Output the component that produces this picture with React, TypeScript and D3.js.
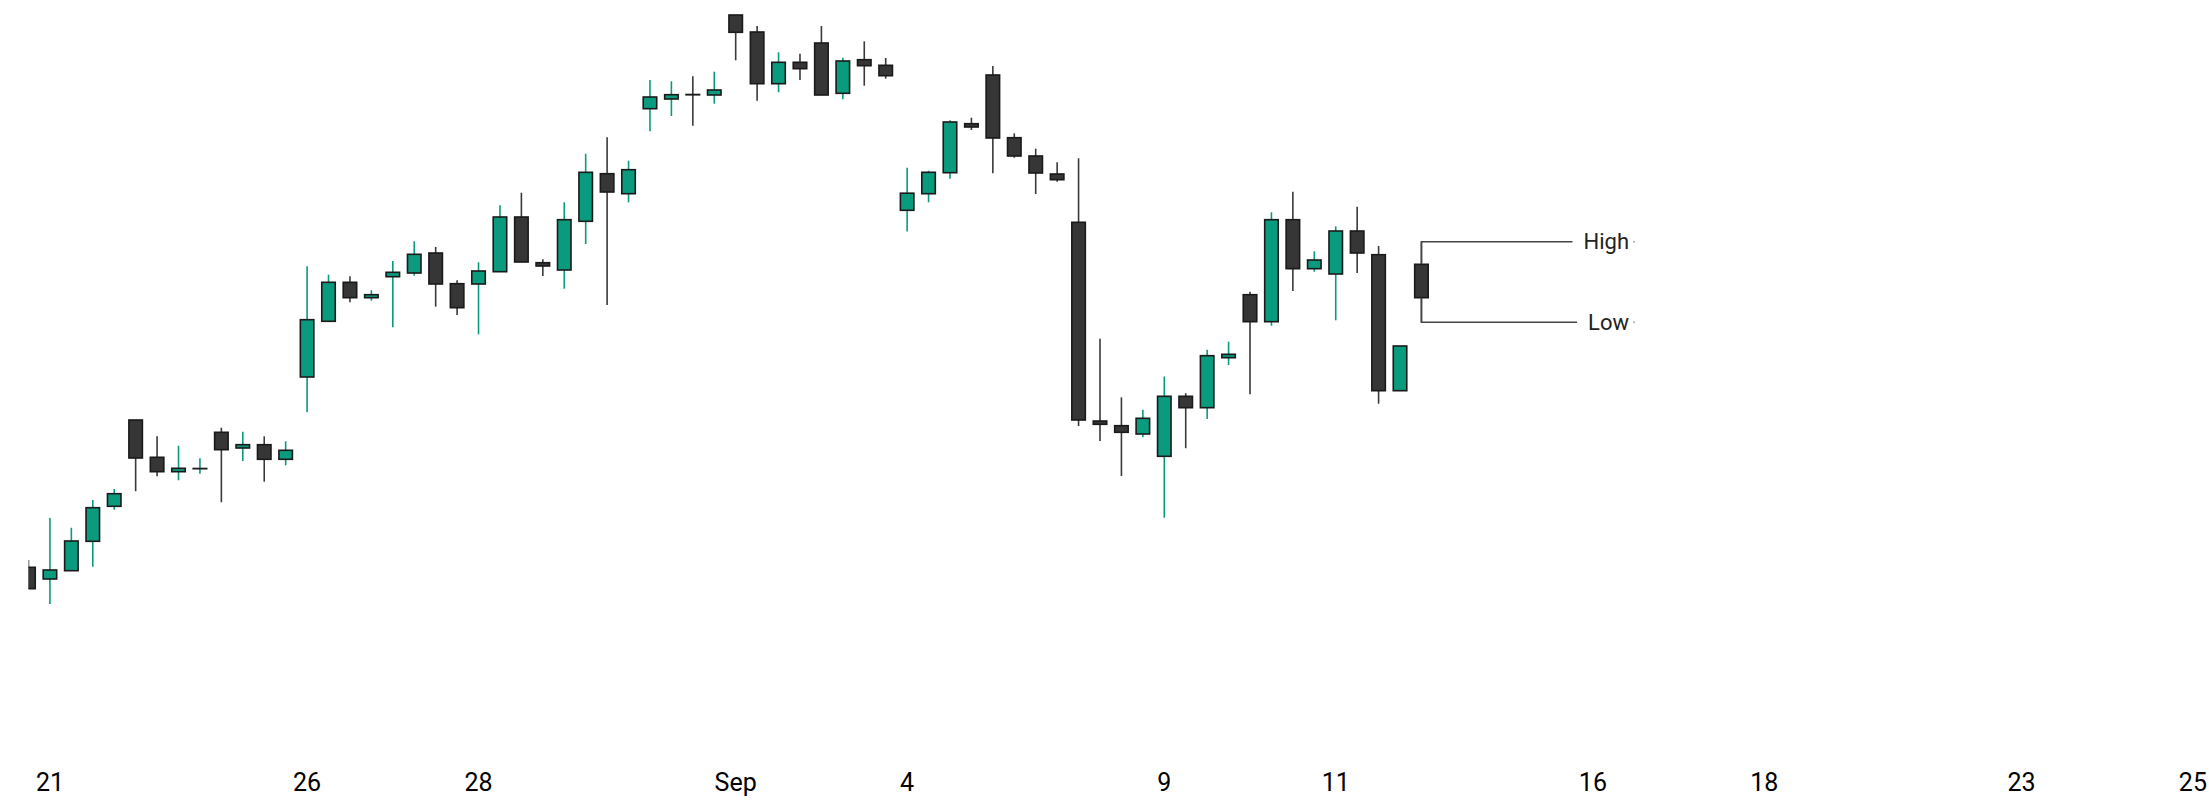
import React, { useEffect, useRef } from 'react';
import * as d3 from 'd3';

// ---------- data ----------
const tradingDays = [
  '2019-08-20', '2019-08-21', '2019-08-22', '2019-08-23', '2019-08-26', '2019-08-27',
  '2019-08-28', '2019-08-29', '2019-08-30', '2019-09-02', '2019-09-03', '2019-09-04',
  '2019-09-05', '2019-09-06', '2019-09-09', '2019-09-10', '2019-09-11', '2019-09-12',
];
const candleHours = [0, 6, 12, 18];
const firstCandle = '2019-08-20T18:00:00Z';
const lastCandle = '2019-09-12T00:00:00Z';

const opens = [
  86.54, 84.2, 85.86, 91.74, 98.74, 116.0, 108.54, 105.66, 106.26, 113.54, 110.4, 111.06, 108.14,
  124.6, 135.74, 143.54, 140.46, 144.66, 145.4, 149.4, 143.26, 143.2, 145.66, 156.6, 147.46, 146.0,
  155.74, 165.26, 161.26, 178.26, 180.2, 181.1, 181.0, 197.0, 193.6, 183.26, 187.54, 191.4, 181.34,
  188.06, 186.94, 157.94, 161.26, 165.46, 175.26, 185.0, 172.46, 168.8, 165.2, 155.54, 115.8, 114.86,
  113.2, 108.74, 120.74, 118.46, 128.46, 141.06, 135.66, 156.06, 146.26, 145.2, 153.8, 149.06, 121.86,
  147.14,
];
const highs = [
  88.0, 96.4, 94.46, 100.0, 102.2, 116.0, 112.74, 110.86, 108.34, 114.46, 113.66, 112.74, 111.74,
  146.74, 145.06, 144.74, 141.94, 147.8, 151.74, 150.6, 143.94, 147.54, 158.94, 161.46, 148.14, 159.54,
  169.26, 172.54, 167.86, 184.0, 183.74, 184.74, 185.66, 197.0, 194.8, 189.54, 189.26, 194.8, 188.46,
  191.74, 188.4, 166.46, 165.86, 175.94, 176.46, 186.8, 173.34, 170.26, 167.54, 168.34, 132.26, 120.54,
  118.06, 124.7, 121.36, 130.04, 131.66, 141.66, 157.54, 161.66, 149.74, 154.74, 158.66, 150.8, 130.8,
  151.66,
];
const lows = [
  82.26, 79.2, 85.86, 86.66, 98.06, 101.74, 104.74, 103.94, 105.26, 99.54, 107.8, 103.66, 106.94,
  117.54, 135.74, 139.54, 139.86, 134.54, 144.86, 138.66, 137.0, 133.14, 145.66, 147.6, 144.8, 142.26,
  151.2, 139.0, 159.54, 173.74, 176.8, 174.86, 179.26, 187.94, 179.86, 181.54, 184.0, 181.0, 180.14,
  182.86, 184.26, 153.7, 159.54, 164.26, 174.0, 165.34, 168.46, 161.2, 163.66, 114.8, 111.8, 104.8,
  112.54, 96.46, 110.36, 116.2, 127.0, 121.14, 134.86, 141.8, 145.66, 135.94, 145.4, 119.26, 121.86,
  135.54,
];
const closes = [
  82.26, 86.0, 91.8, 98.46, 101.26, 108.4, 105.66, 106.34, 106.3, 110.06, 111.06, 108.14, 109.94,
  136.06, 143.54, 140.46, 141.06, 145.54, 149.14, 143.2, 138.46, 145.8, 156.6, 147.6, 146.8, 156.06,
  165.54, 161.6, 166.06, 180.6, 181.06, 181.04, 182.0, 193.54, 183.26, 187.54, 186.26, 181.0, 187.8,
  186.86, 184.86, 161.36, 165.54, 175.6, 174.6, 172.4, 168.8, 165.4, 164.06, 116.0, 115.14, 113.54,
  116.34, 120.74, 118.46, 128.86, 129.14, 135.66, 156.06, 146.26, 148.0, 153.8, 149.4, 121.86, 130.8,
  140.46,
];

const tickDates = [
  '2019-08-21', '2019-08-26', '2019-08-28', '2019-09-01', '2019-09-04', '2019-09-09',
  '2019-09-11', '2019-09-16', '2019-09-18', '2019-09-23', '2019-09-25',
];
const tickLabels = ['21', '26', '28', 'Sep', '4', '9', '11', '16', '18', '23', '25'];
const annotationLabels = ['High', 'Low'];

const xDomain = ['2019-08-20T18:00:00Z', '2019-09-25T04:30:00Z'];
const yDomain = [75, 200];

// ---------- helpers ----------
const BASE = Date.UTC(2019, 7, 19); // a Monday
function tradingIndex(d: Date): number {
  const t = (d.getTime() - BASE) / 864e5;
  const days = Math.floor(t);
  const frac = t - days;
  const weeks = Math.floor(days / 7);
  const dow = ((days % 7) + 7) % 7;
  if (dow >= 5) return weeks * 5 + 5;
  return weeks * 5 + dow + frac;
}

function buildCandleTimes(): Date[] {
  const out: Date[] = [];
  const start = new Date(firstCandle).getTime();
  const end = new Date(lastCandle).getTime();
  tradingDays.forEach((day) => {
    candleHours.forEach((h) => {
      const dt = new Date(`${day}T${String(h).padStart(2, '0')}:00:00Z`);
      if (dt.getTime() >= start && dt.getTime() <= end) out.push(dt);
    });
  });
  return out;
}

const W = 2209;
const H = 801;
const UP = '#0a9a7d';
const DOWN = '#363636';
const STROKE = '#1a1a1a';
const FONT = 'Roboto, "Liberation Sans", sans-serif';

export default function App() {
  const ref = useRef<SVGSVGElement | null>(null);

  useEffect(() => {
    const svg = d3.select(ref.current);
    svg.selectAll('*').remove();

    const times = buildCandleTimes();
    const data = times.map((t, i) => ({
      t,
      open: opens[i],
      high: highs[i],
      low: lows[i],
      close: closes[i],
    }));

    const x = d3
      .scaleLinear()
      .domain([tradingIndex(new Date(xDomain[0])), tradingIndex(new Date(xDomain[1]))])
      .range([28.5, W]);
    const y = d3.scaleLinear().domain(yDomain).range([625, 0]);

    const step = x(tradingIndex(times[1])) - x(tradingIndex(times[0]));
    const bw = step * 0.63;

    svg
      .append('defs')
      .append('clipPath')
      .attr('id', 'plot-clip')
      .append('rect')
      .attr('x', 28.5)
      .attr('y', 0)
      .attr('width', W - 28.5)
      .attr('height', 740);

    const plot = svg.append('g').attr('clip-path', 'url(#plot-clip)');

    const g = plot
      .selectAll('g.candle')
      .data(data)
      .enter()
      .append('g')
      .attr('class', 'candle')
      .attr('transform', (d) => `translate(${x(tradingIndex(d.t))},0)`);

    g.append('line')
      .attr('x1', 0)
      .attr('x2', 0)
      .attr('y1', (d) => y(d.high))
      .attr('y2', (d) => y(d.low))
      .attr('stroke', (d) => (d.close > d.open ? UP : '#3a3a3a'))
      .attr('stroke-width', 1.6);

    g.append('rect')
      .attr('x', -bw / 2)
      .attr('width', bw)
      .attr('y', (d) => y(Math.max(d.open, d.close)))
      .attr('height', (d) => Math.abs(y(d.open) - y(d.close)))
      .attr('fill', (d) => (d.close > d.open ? UP : DOWN))
      .attr('stroke', STROKE)
      .attr('stroke-width', 1.6);

    // annotations on the last candle
    const last = data[data.length - 1];
    const lx = x(tradingIndex(last.t));
    const labelRight = 1629;
    const ann = svg.append('g');
    const items = [
      { label: annotationLabels[0], yv: y(last.high), from: y(Math.max(last.open, last.close)) },
      { label: annotationLabels[1], yv: y(last.low), from: y(Math.min(last.open, last.close)) },
    ];
    items.forEach((it) => {
      const txt = ann
        .append('text')
        .attr('x', labelRight)
        .attr('y', it.yv)
        .attr('dy', '0.35em')
        .attr('text-anchor', 'end')
        .attr('font-family', FONT)
        .attr('font-size', 22)
        .attr('fill', '#222')
        .text(it.label);
      const bb = (txt.node() as SVGTextElement).getBBox();
      ann
        .append('path')
        .attr('d', `M${lx},${it.from}V${it.yv}H${bb.x - 11}`)
        .attr('fill', 'none')
        .attr('stroke', '#444')
        .attr('stroke-width', 1.5);
      ann
        .append('circle')
        .attr('cx', labelRight + 5)
        .attr('cy', it.yv)
        .attr('r', 1)
        .attr('fill', '#aaa');
    });

    // x axis labels
    svg
      .append('g')
      .selectAll('text')
      .data(tickDates)
      .enter()
      .append('text')
      .attr('x', (d) => x(tradingIndex(new Date(`${d}T00:00:00Z`))))
      .attr('y', 791)
      .attr('text-anchor', 'middle')
      .attr('font-family', FONT)
      .attr('font-size', 25)
      .attr('fill', '#000')
      .text((_, i) => tickLabels[i]);
  }, []);

  return (
    <svg
      ref={ref}
      width={W}
      height={H}
      style={{ position: 'absolute', left: 0, top: 0, background: '#fff' }}
    />
  );
}
